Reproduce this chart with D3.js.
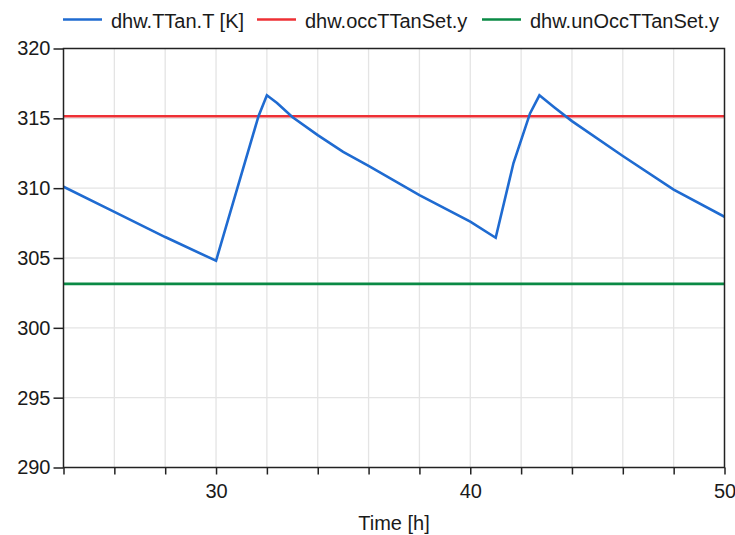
<!DOCTYPE html>
<html>
<head>
<meta charset="utf-8">
<script src="https://cdn.jsdelivr.net/npm/d3@7"></script>
<style>
  html, body { margin: 0; padding: 0; background: #fff; }
  svg { display: block; }
  text { font-family: "Liberation Sans", Arial, sans-serif; fill: #1a1a1a; }
</style>
</head>
<body>
<div id="chart"></div>
<script>
// Domestic hot water tank temperature over time, with the two set-points
const seriesNames = ["dhw.TTan.T [K]", "dhw.occTTanSet.y", "dhw.unOccTTanSet.y"];
const seriesColors = ["#1f6bd1", "#ee3035", "#0a8a45"];

// Tank temperature samples: time [h] and temperature [K]
const tankTime = [24.0, 26.0, 28.0, 30.0, 31.0, 31.67, 32.0,
                  32.4, 33.0, 34.0, 35.0, 36.0, 38.0, 40.0, 41.0,
                  41.7, 42.35, 42.72,
                  43.3, 44.0, 46.0, 48.0, 50.0];
const tankTemp = [310.1, 308.3, 306.5, 304.8, 311.0, 315.15, 316.65,
                  316.1, 315.1, 313.8, 312.6, 311.6, 309.5, 307.6, 306.45,
                  311.8, 315.35, 316.65,
                  315.8, 314.8, 312.3, 309.9, 307.95];

// Constant set-points [K]
const occSetTime = [24, 50];
const occSetTemp = [315.15, 315.15];
const unOccSetTime = [24, 50];
const unOccSetTemp = [303.15, 303.15];

// Axis ticks
const xGridTicks = [24, 26, 28, 30, 32, 34, 36, 38, 40, 42, 44, 46, 48, 50];
const xLabelTicks = [30, 40, 50];
const yTicks = [290, 295, 300, 305, 310, 315, 320];
const xTitle = "Time [h]";

const W = 735, H = 535;
const plot = { left: 63.5, right: 724.5, top: 48.5, bottom: 467.5 };

const svg = d3.select("#chart").append("svg").attr("width", W).attr("height", H);

const x = d3.scaleLinear().domain([24, 50]).range([plot.left, plot.right]);
const y = d3.scaleLinear().domain([290, 320]).range([plot.bottom, plot.top]);

// Grid
const grid = svg.append("g");
grid.selectAll("line.vx").data(xGridTicks.slice(1, -1)).join("line")
  .attr("x1", d => x(d)).attr("x2", d => x(d))
  .attr("y1", plot.top).attr("y2", plot.bottom)
  .attr("stroke", "#e4e4e4").attr("stroke-width", 1.3);
grid.selectAll("line.hy").data(yTicks.slice(1, -1)).join("line")
  .attr("x1", plot.left).attr("x2", plot.right)
  .attr("y1", d => y(d)).attr("y2", d => y(d))
  .attr("stroke", "#e4e4e4").attr("stroke-width", 1.3);

// Series
const lineGen = d3.line().x(d => x(d[0])).y(d => y(d[1]));
svg.append("clipPath").attr("id", "clip").append("rect")
  .attr("x", plot.left).attr("y", plot.top)
  .attr("width", plot.right - plot.left).attr("height", plot.bottom - plot.top);

const seriesData = [
  d3.zip(tankTime, tankTemp),
  d3.zip(occSetTime, occSetTemp),
  d3.zip(unOccSetTime, unOccSetTemp)
];
const lines = svg.append("g").attr("clip-path", "url(#clip)");
[1, 2, 0].forEach(i => {
  lines.append("path")
    .datum(seriesData[i])
    .attr("d", lineGen)
    .attr("fill", "none")
    .attr("stroke", seriesColors[i])
    .attr("stroke-width", 2.6)
    .attr("stroke-linejoin", "miter");
});

// Axes
const xAxis = d3.axisBottom(x).tickValues(xGridTicks)
  .tickFormat(d => xLabelTicks.includes(d) ? d : "")
  .tickSize(7).tickPadding(9);
const gx = svg.append("g").attr("transform", `translate(0,${plot.bottom})`).call(xAxis);
gx.select(".domain").remove();
gx.selectAll(".tick line").attr("stroke", "#222").attr("stroke-width", 1.5);
gx.selectAll(".tick text").attr("font-size", 20).attr("fill", "#1a1a1a")
  .attr("font-family", "Liberation Sans, Arial, sans-serif");

const yAxis = d3.axisLeft(y).tickValues(yTicks).tickSize(10).tickPadding(3);
const gy = svg.append("g").attr("transform", `translate(${plot.left},0)`).call(yAxis);
gy.select(".domain").remove();
gy.selectAll(".tick line").attr("stroke", "#222").attr("stroke-width", 1.5);
gy.selectAll(".tick text").attr("font-size", 20).attr("fill", "#1a1a1a")
  .attr("font-family", "Liberation Sans, Arial, sans-serif");

// Frame
svg.append("rect")
  .attr("x", plot.left).attr("y", plot.top)
  .attr("width", plot.right - plot.left).attr("height", plot.bottom - plot.top)
  .attr("fill", "none").attr("stroke", "#222").attr("stroke-width", 1.5);

// Axis title
svg.append("text")
  .attr("x", (plot.left + plot.right) / 2).attr("y", 530)
  .attr("text-anchor", "middle").attr("font-size", 20)
  .text(xTitle);

// Legend
const legendX = [63, 257, 482];
const legend = svg.append("g");
seriesNames.forEach((name, i) => {
  const gl = legend.append("g").attr("transform", `translate(${legendX[i]},0)`);
  gl.append("line").attr("x1", 0).attr("x2", 39).attr("y1", 19.5).attr("y2", 19.5)
    .attr("stroke", seriesColors[i]).attr("stroke-width", 2.6);
  gl.append("text").attr("x", 48).attr("y", 27.5).attr("font-size", 20).text(name);
});
</script>
</body>
</html>
